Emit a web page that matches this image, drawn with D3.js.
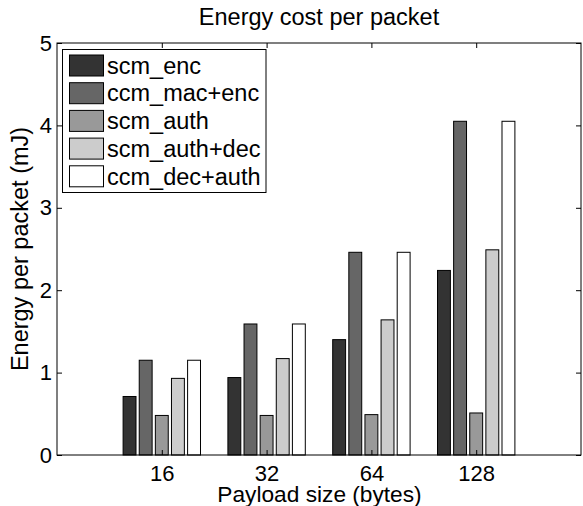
<!DOCTYPE html>
<html>
<head>
<meta charset="utf-8">
<script src="https://cdn.jsdelivr.net/npm/d3@7"></script>
<style>
  html, body { margin: 0; padding: 0; background: #fff; }
  svg { display: block; font-family: "Liberation Sans", Arial, Helvetica, sans-serif; }
</style>
</head>
<body>
<svg id="chart" width="583" height="506"></svg>
<script>
// ---- data ----
const categories = ["16", "32", "64", "128"];
const seriesNames = ["scm_enc", "ccm_mac+enc", "scm_auth", "scm_auth+dec", "ccm_dec+auth"];
const scmEnc     = [0.71, 0.94, 1.40, 2.24];
const ccmMacEnc  = [1.15, 1.59, 2.46, 4.05];
const scmAuth    = [0.48, 0.48, 0.49, 0.51];
const scmAuthDec = [0.93, 1.17, 1.64, 2.49];
const ccmDecAuth = [1.15, 1.59, 2.46, 4.05];
const yTicks = [0, 1, 2, 3, 4, 5];
const titleText = "Energy cost per packet";
const xLabelText = "Payload size (bytes)";
const yLabelText = "Energy per packet (mJ)";

const seriesValues = [scmEnc, ccmMacEnc, scmAuth, scmAuthDec, ccmDecAuth];
const seriesColors = ["#333333", "#666666", "#999999", "#cccccc", "#ffffff"];

// ---- layout ----
const W = 583, H = 506;
const plot = { left: 57, right: 581, top: 43, bottom: 455 };
const FS = 23.5;
const TFS = 22;
const XLFS = 22.7;

const svg = d3.select("#chart");

const x = d3.scaleLinear().domain([0, categories.length + 1]).range([plot.left, plot.right]);
const y = d3.scaleLinear().domain([0, 5]).range([plot.bottom, plot.top]);

// MATLAB grouped bar geometry
const nS = seriesNames.length;
const groupW = Math.min(0.8, nS / (nS + 1.5));
const step = groupW / nS;
const barW = step * 0.8;

// bars
seriesValues.forEach((vals, j) => {
  svg.append("g")
    .selectAll("rect")
    .data(vals)
    .join("rect")
    .attr("x", (d, i) => x(i + 1 + (j - (nS - 1) / 2) * step - barW / 2))
    .attr("width", (d, i) => x(barW) - x(0))
    .attr("y", d => y(d))
    .attr("height", d => y(0) - y(d))
    .attr("fill", seriesColors[j])
    .attr("stroke", "#000")
    .attr("stroke-width", 1);
});

// axes
const tickIdx = categories.map((c, i) => i + 1);
const axB = d3.axisBottom(x).tickValues(tickIdx).tickFormat((d) => categories[d - 1]).tickSize(-5).tickPadding(10);
const axT = d3.axisTop(x).tickValues(tickIdx).tickFormat("").tickSize(-5);
const axL = d3.axisLeft(y).tickValues(yTicks).tickFormat(d3.format("d")).tickSize(-5).tickPadding(5);
const axR = d3.axisRight(y).tickValues(yTicks).tickFormat("").tickSize(-5);

function styleAxis(g) {
  g.select(".domain").remove();
  g.selectAll(".tick line").attr("stroke", "#000");
  g.selectAll(".tick text").attr("fill", "#000").style("font-size", TFS + "px");
}
svg.append("g").attr("transform", `translate(0,${plot.bottom})`).call(axB).call(styleAxis);
svg.append("g").attr("transform", `translate(0,${plot.top})`).call(axT).call(styleAxis);
svg.append("g").attr("transform", `translate(${plot.left},0)`).call(axL).call(styleAxis);
svg.append("g").attr("transform", `translate(${plot.right},0)`).call(axR).call(styleAxis);

// frame
svg.append("rect")
  .attr("x", plot.left).attr("y", plot.top)
  .attr("width", plot.right - plot.left).attr("height", plot.bottom - plot.top)
  .attr("fill", "none").attr("stroke", "#000").attr("stroke-width", 1);

// title & labels
svg.append("text")
  .attr("x", (plot.left + plot.right) / 2).attr("y", 25)
  .attr("text-anchor", "middle").style("font-size", FS + "px")
  .text(titleText);
svg.append("text")
  .attr("x", (plot.left + plot.right) / 2 + 0.5).attr("y", 501.5)
  .attr("text-anchor", "middle").style("font-size", XLFS + "px")
  .text(xLabelText);
svg.append("text")
  .attr("transform", `translate(28,${(plot.top + plot.bottom) / 2}) rotate(-90)`)
  .attr("text-anchor", "middle").style("font-size", FS + "px")
  .text(yLabelText);

// legend
const leg = { x: 62.5, y: 49.5, w: 203.5, h: 143, rowH: 27.7, sw: 34, sh: 21 };
const lg = svg.append("g");
lg.append("rect")
  .attr("x", leg.x).attr("y", leg.y).attr("width", leg.w).attr("height", leg.h)
  .attr("fill", "#fff").attr("stroke", "#000").attr("stroke-width", 1);
const rows = lg.selectAll("g.row").data(seriesNames).join("g").attr("class", "row")
  .attr("transform", (d, i) => `translate(0,${leg.y + 16 + i * leg.rowH})`);
rows.append("rect")
  .attr("x", 69.5).attr("y", -leg.sh / 2).attr("width", leg.sw).attr("height", leg.sh)
  .attr("fill", (d, i) => seriesColors[i]).attr("stroke", "#000").attr("stroke-width", 1);
rows.append("text")
  .attr("x", 107).attr("y", 0).attr("dy", "0.35em")
  .style("font-size", FS + "px")
  .text(d => d);
</script>
</body>
</html>
